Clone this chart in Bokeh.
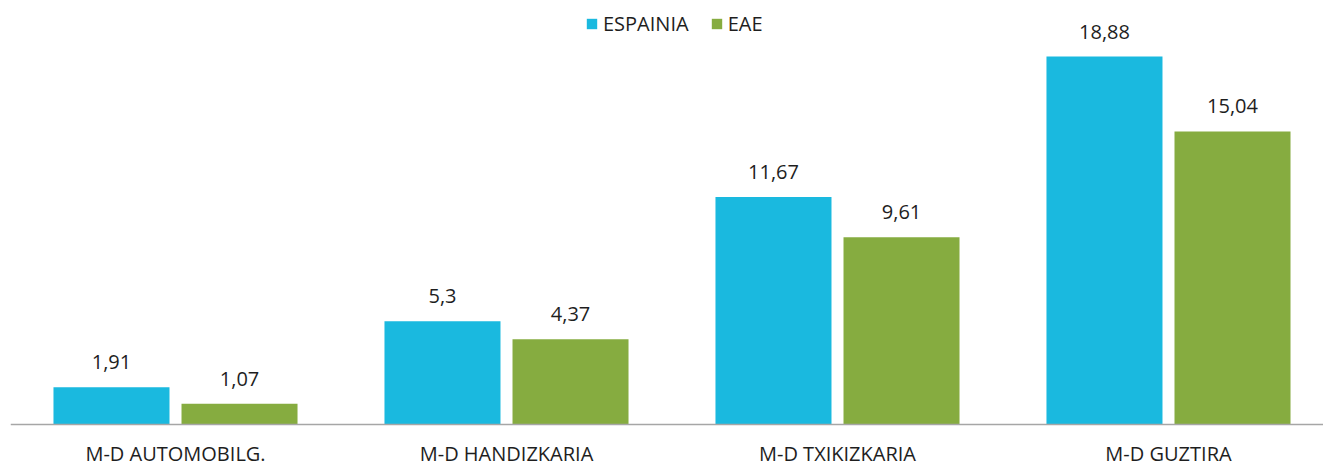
import numpy as np
from bokeh.plotting import figure
from bokeh.models import ColumnDataSource, Range1d, Legend, LegendItem, Span
from bokeh.core.properties import value
from bokeh.embed import file_html
from bokeh.resources import INLINE

categories = ["M-D AUTOMOBILG.", "M-D HANDIZKARIA", "M-D TXIKIZKARIA", "M-D GUZTIRA"]
espainia = [1.91, 5.3, 11.67, 18.88]
eae = [1.07, 4.37, 9.61, 15.04]
series_names = ["ESPAINIA", "EAE"]

BLUE = "#1AB9DF"
GREEN = "#86AC40"
FONT = "Open Sans"
TXT = "#1E1E1E"

idx = np.arange(len(categories))
off = 0.1934
bw = 0.3505

def fmt(v):
    return str(v).replace(".", ",")

src_a = ColumnDataSource(dict(x=idx - off, top=espainia, lab=[fmt(v) for v in espainia]))
src_b = ColumnDataSource(dict(x=idx + off, top=eae, lab=[fmt(v) for v in eae]))
src_c = ColumnDataSource(dict(x=idx, y=[0] * len(categories), lab=categories))

p = figure(width=1323, height=467, output_backend="svg", toolbar_location=None,
           x_range=Range1d(-0.4985, 3.4683), y_range=Range1d(-2.206, 21.755),
           min_border_left=10, min_border_right=0, min_border_top=0, min_border_bottom=0)

ra = p.vbar(x="x", top="top", width=bw, source=src_a, fill_color=BLUE, line_color=None)
rb = p.vbar(x="x", top="top", width=bw, source=src_b, fill_color=GREEN, line_color=None)

for s in (src_a, src_b):
    p.text(x="x", y="top", text="lab", source=s, text_align="center", text_baseline="alphabetic",
           y_offset=-25, text_font=value(FONT), text_font_size="20px", text_color=TXT)

p.text(x="x", y="y", text="lab", source=src_c, text_align="center", text_baseline="alphabetic",
       y_offset=29, text_font=value(FONT), text_font_size="20px", text_color=TXT)

p.add_layout(Span(location=0, dimension="width", line_color="#A6A6A6", line_width=1.5))

p.xgrid.visible = False
p.ygrid.visible = False
p.xaxis.visible = False
p.yaxis.visible = False
p.outline_line_color = None
p.background_fill_color = "white"
p.border_fill_color = "white"

legend = Legend(items=[LegendItem(label=series_names[0], renderers=[ra]),
                       LegendItem(label=series_names[1], renderers=[rb])],
                orientation="horizontal", location=(575, 430),
                glyph_width=13, glyph_height=13, label_standoff=5, spacing=21,
                padding=0, margin=0, border_line_color=None, background_fill_alpha=0,
                label_text_font=FONT, label_text_font_size="20px", label_text_color=TXT)
p.add_layout(legend)

open("out.html", "w").write(file_html(p, INLINE))
